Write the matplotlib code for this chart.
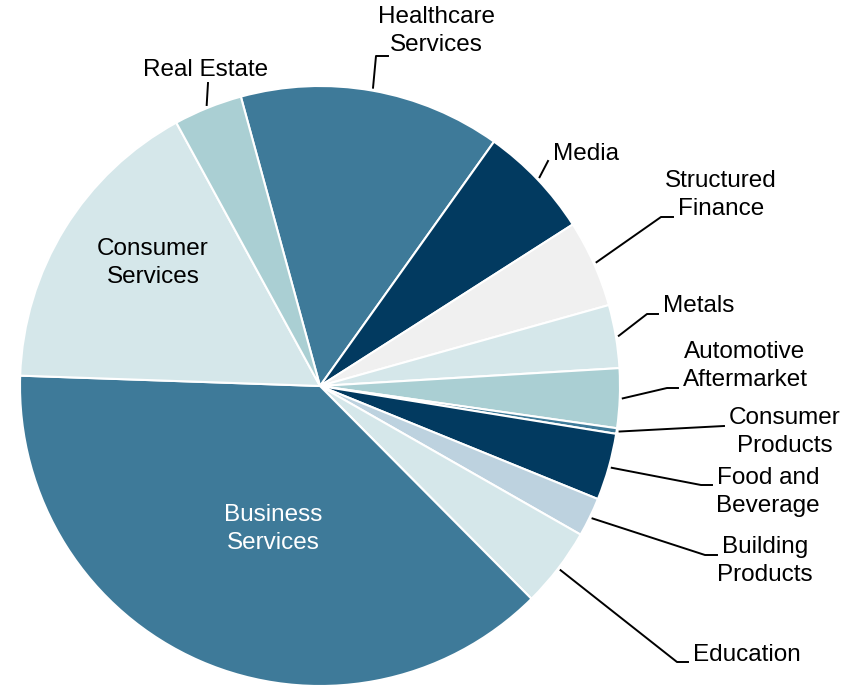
import numpy as np
import matplotlib.pyplot as plt

plt.rcParams['font.family'] = ['Liberation Sans', 'DejaVu Sans']

# slices, clockwise from the top (Healthcare starts just left of 12 o'clock)
sectors = ['Healthcare\nServices', 'Media', 'Structured\nFinance', 'Metals',
           'Automotive\nAftermarket', 'Consumer\nProducts', 'Food and\nBeverage',
           'Building\nProducts', 'Education', 'Business\nServices',
           'Consumer\nServices', 'Real Estate']
shares = [14.1, 6.1, 4.7, 3.4, 3.2, 0.3, 3.6, 2.1, 4.3, 38.0, 16.5, 3.7]
colors = ['#3e7a99', '#023a60', '#f0f0f0', '#d5e7ea', '#aacfd3', '#3e7a99',
          '#023a60', '#bdd2df', '#d5e7ea', '#3e7a99', '#d5e7ea', '#aacfd3']

# label layout in pixels: (text x, text y, ha, elbow x, elbow y, end x)
cx, cy, R = 320, 386, 300
layout = {
    'Healthcare\nServices': (436, 31, 'center', 376, 56, 388),
    'Media': (553, 154, 'left', 548, 161, 548),
    'Structured\nFinance': (721, 195, 'center', 661, 217, 673),
    'Metals': (663, 306, 'left', 647, 314, 658),
    'Automotive\nAftermarket': (745, 366, 'center', 667, 388, 678),
    'Consumer\nProducts': (785, 432, 'center', 724, 426, 724),
    'Food and\nBeverage': (768, 492, 'center', 701, 485, 712),
    'Building\nProducts': (765, 561, 'center', 705, 555, 717),
    'Education': (693, 655, 'left', 677, 662, 688),
    'Real Estate': (206, 70, 'center', 208, 83, 208),
}
inside = {'Consumer\nServices': (153, 263, 'black'),
          'Business\nServices': (273, 529, 'white')}
FS = 17.5
LS = 1.34


def px(x, y):
    return (x - cx) / R, (cy - y) / R


fig = plt.figure(figsize=(8.58, 6.85), dpi=100)
ax = fig.add_axes([0, 0, 1, 1])
wedges, _ = ax.pie(shares, colors=colors, startangle=105.3, counterclock=False,
                   radius=1.0, wedgeprops=dict(edgecolor='white', linewidth=1.5))
ax.set_xlim(px(0, 0)[0], px(858, 0)[0])
ax.set_ylim(px(0, 685)[1], px(0, 0)[1])
ax.set_aspect('equal')
ax.axis('off')

for w, name in zip(wedges, sectors):
    if name in inside:
        x, y, c = inside[name]
        ax.text(*px(x, y), name, ha='center', va='center', fontsize=FS,
                color=c, linespacing=LS)
        continue
    tx, ty, ha, ex, ey, endx = layout[name]
    mid = np.deg2rad((w.theta1 + w.theta2) / 2)
    sx, sy = np.cos(mid) * 1.01, np.sin(mid) * 1.01
    e1 = px(ex, ey)
    e2 = px(endx, ey)
    ax.plot([sx, e1[0], e2[0]], [sy, e1[1], e2[1]], color='black', lw=1.4)
    ax.text(*px(tx, ty), name, ha=ha, va='center', fontsize=FS,
            color='black', linespacing=LS, multialignment='center')

fig.savefig('out.png', dpi=100)
